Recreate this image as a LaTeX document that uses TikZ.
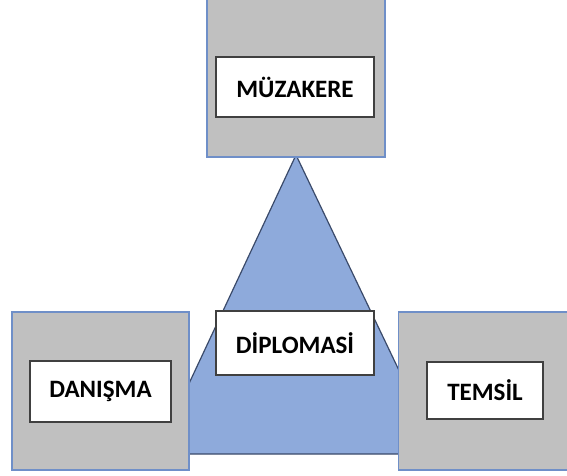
\documentclass[tikz,border=0pt]{standalone}
\usepackage{fontspec}
\setmainfont{Carlito}
\usepackage{tikz}

\definecolor{boxgray}{HTML}{C0C0C0}
\definecolor{boxblue}{HTML}{6F8FC8}
\definecolor{triblue}{HTML}{8EAADB}
\definecolor{triedge}{HTML}{3A4A6A}
\definecolor{tagedge}{HTML}{404040}

\begin{document}
\begin{tikzpicture}[x=1pt,y=-1pt,
        outer/.style={draw=boxblue,line width=1.2pt,fill=boxgray,inner sep=0pt},
        tag/.style={draw=tagedge,line width=1.4pt,fill=white,inner sep=0pt,
            font=\fontsize{25}{30}\selectfont\bfseries}]
            \useasboundingbox (0,0) rectangle (567,476);
            \clip (0,0) rectangle (567,476);
            % triangle behind everything
            \filldraw[fill=triblue,draw=triedge,line width=1.2pt]
                (296,155) -- (439,454) -- (156,454) -- cycle;
            % outer boxes
            \node[outer,minimum width=178pt,minimum height=158pt] at (296,78) (muzakerebox) {};
            \node[outer,minimum width=177pt,minimum height=158pt] at (100.5,391) (danismabox) {};
            \node[outer,minimum width=178pt,minimum height=158pt] at (487.5,391) (temsilbox) {};
            % labels
            \node[tag,minimum width=158pt,minimum height=60pt] at (295,87) (muzakere) {MÜZAKERE};
            \node[tag,minimum width=141pt,minimum height=61pt] at (100.5,391.5) (danisma) {DANIŞMA};
            \node[tag,minimum width=116pt,minimum height=57pt] at (485,390.5) (temsil) {TEMSİL};
            \node[tag,minimum width=158pt,minimum height=64pt] at (295,343) (diplomasi) {DİPLOMASİ};
        \end{tikzpicture}
\end{document}
